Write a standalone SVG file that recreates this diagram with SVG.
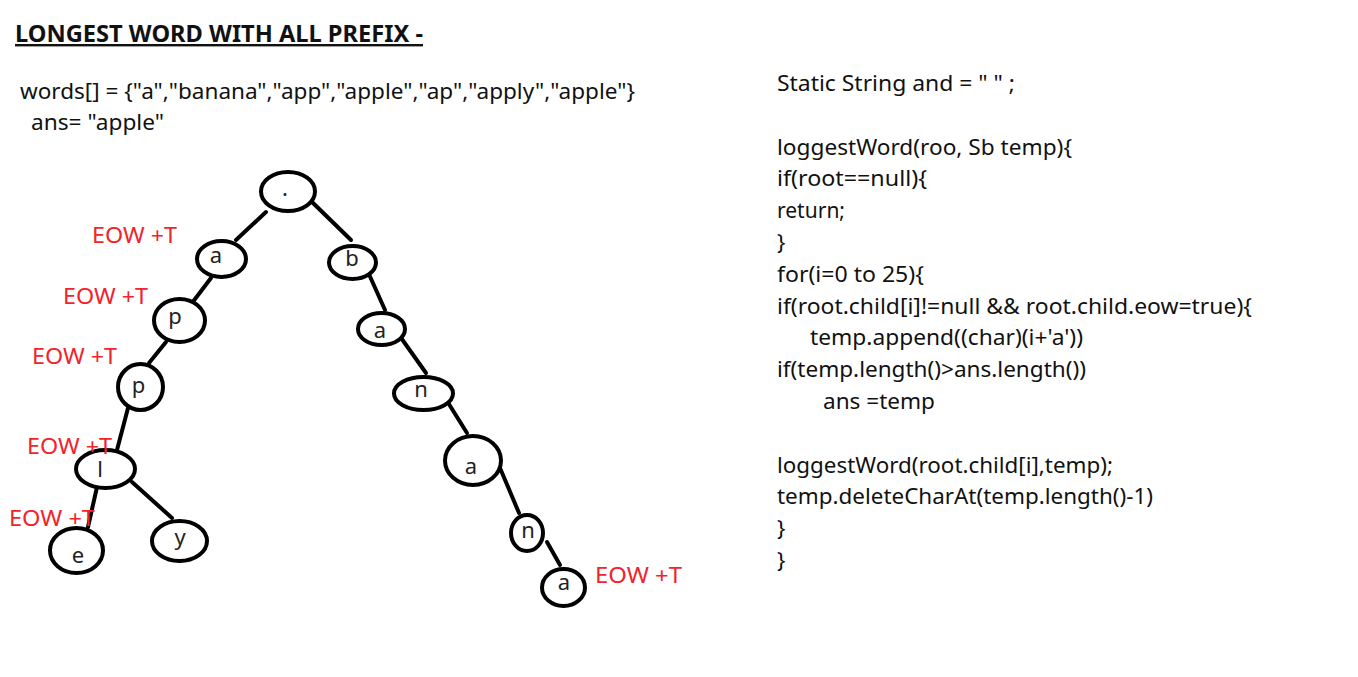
<svg xmlns="http://www.w3.org/2000/svg" width="1358" height="677" viewBox="0 0 1358 677">
<style>
.bg{fill:#fff}
.t{font-family:"Noto Sans","Open Sans","Liberation Sans",sans-serif;fill:#111}
.title{font-size:24px;font-weight:bold;text-decoration:underline}
.code{font-size:22px}
.eow{font-family:"Noto Sans","Open Sans","Liberation Sans",sans-serif;font-size:22px;fill:#f2232b}
.node ellipse{fill:#fff;stroke:#000;stroke-width:4}
.node text{font-family:"Noto Sans","Open Sans","Liberation Sans",sans-serif;font-size:22px;fill:#222;text-anchor:middle}
.edges line{stroke:#000;stroke-width:4;stroke-linecap:round}
</style>
<rect class="bg" x="0" y="0" width="1358" height="677"/>

<text class="t title" x="15" y="42" textLength="408" lengthAdjust="spacingAndGlyphs">LONGEST WORD WITH ALL PREFIX -</text>
<text class="t code" x="20" y="99" textLength="615" lengthAdjust="spacingAndGlyphs">words[] = {"a","banana","app","apple","ap","apply","apple"}</text>
<text class="t code" x="31" y="129.5" textLength="133" lengthAdjust="spacingAndGlyphs">ans= "apple"</text>

<g id="connectors" class="edges">
<line x1="266" y1="212" x2="236" y2="240"/>
<line x1="312" y1="202" x2="351" y2="240"/>
<line x1="211" y1="278" x2="192" y2="303"/>
<line x1="166" y1="342" x2="149" y2="363"/>
<line x1="128" y1="408" x2="117" y2="450"/>
<line x1="97" y1="487" x2="88" y2="527"/>
<line x1="132" y1="482" x2="172" y2="518"/>
<line x1="368" y1="272" x2="385" y2="310"/>
<line x1="399" y1="335" x2="426" y2="373"/>
<line x1="447" y1="401" x2="467" y2="433"/>
<line x1="500" y1="468" x2="519" y2="513"/>
<line x1="547" y1="542" x2="560" y2="565"/>
</g>

<g id="node-root" class="node"><ellipse cx="288" cy="191.5" rx="27" ry="19.5"/><text x="285" y="196">.</text></g>
<g id="node-a1" class="node"><ellipse cx="221.5" cy="259" rx="24.5" ry="18"/><text x="216" y="263">a</text></g>
<g id="node-p1" class="node"><ellipse cx="179.5" cy="320.5" rx="25.5" ry="21.5"/><text x="175" y="324">p</text></g>
<g id="node-p2" class="node"><ellipse cx="140.5" cy="387" rx="22.5" ry="23"/><text x="138.5" y="393">p</text></g>
<g id="node-l" class="node"><ellipse cx="105.5" cy="469" rx="29.5" ry="19"/><text x="100" y="477">l</text></g>
<g id="node-e" class="node"><ellipse cx="76.5" cy="550.5" rx="26.5" ry="22.5"/><text x="78" y="563">e</text></g>
<g id="node-y" class="node"><ellipse cx="179.5" cy="541" rx="27.5" ry="20"/><text x="180" y="545">y</text></g>
<g id="node-b" class="node"><ellipse cx="352.5" cy="262.5" rx="23.5" ry="16.5"/><text x="352" y="266">b</text></g>
<g id="node-a2" class="node"><ellipse cx="381.5" cy="329" rx="23.5" ry="16"/><text x="380" y="338">a</text></g>
<g id="node-n1" class="node"><ellipse cx="423.5" cy="393.5" rx="29.5" ry="16.5"/><text x="421" y="397">n</text></g>
<g id="node-a3" class="node"><ellipse cx="473" cy="460.5" rx="28" ry="24.5"/><text x="471" y="474">a</text></g>
<g id="node-n2" class="node"><ellipse cx="527" cy="533" rx="16" ry="18"/><text x="528" y="538">n</text></g>
<g id="node-a4" class="node"><ellipse cx="563.5" cy="587.5" rx="21.5" ry="18.5"/><text x="564" y="590">a</text></g>

<g id="eow-labels">
<text class="eow" x="92" y="243" textLength="85" lengthAdjust="spacingAndGlyphs">EOW +T</text>
<text class="eow" x="63" y="304" textLength="85" lengthAdjust="spacingAndGlyphs">EOW +T</text>
<text class="eow" x="32" y="364" textLength="85" lengthAdjust="spacingAndGlyphs">EOW +T</text>
<text class="eow" x="27" y="454" textLength="85" lengthAdjust="spacingAndGlyphs">EOW +T</text>
<text class="eow" x="9" y="526" textLength="86" lengthAdjust="spacingAndGlyphs">EOW +T</text>
<text class="eow" x="595" y="583" textLength="87" lengthAdjust="spacingAndGlyphs">EOW +T</text>
</g>

<g id="code">
<text class="t code" x="777" y="91" textLength="238" lengthAdjust="spacingAndGlyphs">Static String and = " " ;</text>
<text class="t code" x="777" y="154.6" textLength="295" lengthAdjust="spacingAndGlyphs">loggestWord(roo, Sb temp){</text>
<text class="t code" x="777" y="186.4" textLength="150" lengthAdjust="spacingAndGlyphs">if(root==null){</text>
<text class="t code" x="777" y="218.2" textLength="68" lengthAdjust="spacingAndGlyphs">return;</text>
<text class="t code" x="777" y="250">}</text>
<text class="t code" x="777" y="281.8" textLength="147" lengthAdjust="spacingAndGlyphs">for(i=0 to 25){</text>
<text class="t code" x="777" y="313.6" textLength="475" lengthAdjust="spacingAndGlyphs">if(root.child[i]!=null &amp;&amp; root.child.eow=true){</text>
<text class="t code" x="810" y="345.4" textLength="273" lengthAdjust="spacingAndGlyphs">temp.append((char)(i+'a'))</text>
<text class="t code" x="777" y="377.2" textLength="309" lengthAdjust="spacingAndGlyphs">if(temp.length()&gt;ans.length())</text>
<text class="t code" x="823" y="409" textLength="112" lengthAdjust="spacingAndGlyphs">ans =temp</text>
<text class="t code" x="777" y="472.6" textLength="336" lengthAdjust="spacingAndGlyphs">loggestWord(root.child[i],temp);</text>
<text class="t code" x="777" y="504.4" textLength="376" lengthAdjust="spacingAndGlyphs">temp.deleteCharAt(temp.length()-1)</text>
<text class="t code" x="777" y="536.2">}</text>
<text class="t code" x="777" y="568">}</text>
</g>
</svg>
